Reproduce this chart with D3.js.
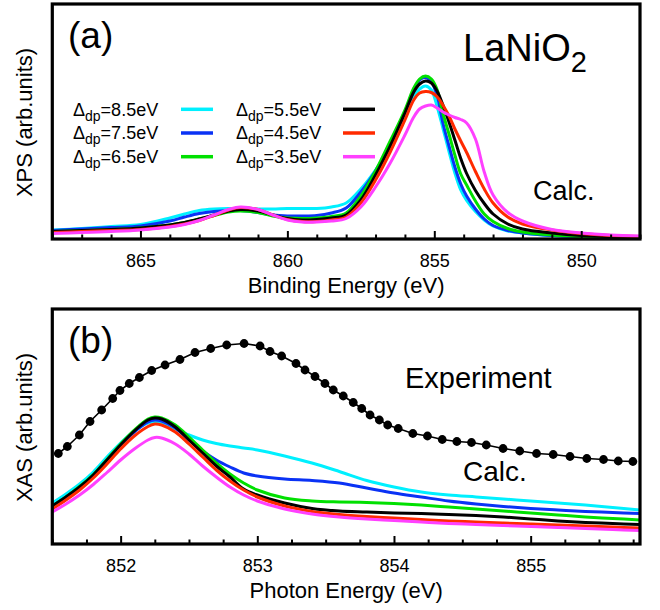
<!DOCTYPE html>
<html><head><meta charset="utf-8">
<script src="https://cdn.jsdelivr.net/npm/d3@7"></script>
<style>
body{margin:0;background:#fff;}
text{font-family:"Liberation Sans",Arial,Helvetica,sans-serif;fill:#000;}
</style>
</head><body>
<svg id="chart" width="660" height="610"></svg>
<script>
// ---------- data ----------
const seriesLabels = ["8.5", "7.5", "6.5", "5.5", "4.5", "3.5"];
const seriesColors = ["#00f0ff", "#0a32f5", "#00e000", "#000000", "#ff2a00", "#ff40ff"];

// (a) XPS, binding energy (eV)
const energyA = [868,867,866,865,864,863.5,863,862.5,862,861.6,861,860.5,860,859.5,859,858.5,858,857.5,857,856.5,856,855.7,855.5,855.3,855.1,854.9,854.7,854.5,854.3,854.1,853.9,853.6,853.3,853.0,852.5,852,851,850,849,848];
const xps85 = [0.18,0.21,0.25,0.29,0.42,0.50,0.57,0.60,0.61,0.61,0.60,0.60,0.61,0.61,0.61,0.64,0.72,1.00,1.38,1.84,2.42,2.84,3.00,3.06,2.98,2.64,2.20,1.75,1.32,0.98,0.77,0.55,0.38,0.26,0.16,0.12,0.07,0.05,0.04,0.04];
const xps75 = [0.17,0.20,0.23,0.26,0.36,0.44,0.51,0.55,0.57,0.57,0.53,0.48,0.46,0.46,0.47,0.52,0.62,0.94,1.36,1.88,2.52,2.96,3.18,3.23,3.14,2.86,2.30,1.86,1.44,1.10,0.86,0.60,0.40,0.27,0.17,0.12,0.07,0.05,0.04,0.04];
const xps65 = [0.15,0.17,0.19,0.22,0.28,0.33,0.40,0.47,0.54,0.56,0.53,0.46,0.42,0.41,0.42,0.45,0.52,0.86,1.36,1.96,2.58,3.02,3.20,3.26,3.20,2.98,2.50,2.10,1.68,1.30,1.08,0.76,0.50,0.35,0.21,0.14,0.08,0.05,0.04,0.04];
const xps55 = [0.15,0.17,0.19,0.22,0.28,0.33,0.40,0.48,0.56,0.59,0.56,0.48,0.41,0.38,0.39,0.42,0.48,0.78,1.28,1.86,2.52,2.94,3.10,3.16,3.12,2.95,2.67,2.34,1.98,1.61,1.31,0.97,0.71,0.50,0.30,0.20,0.12,0.07,0.05,0.04];
const xps45 = [0.13,0.15,0.17,0.19,0.25,0.30,0.37,0.47,0.58,0.63,0.59,0.48,0.39,0.35,0.35,0.38,0.44,0.72,1.18,1.74,2.38,2.78,2.92,2.95,2.93,2.84,2.67,2.46,2.20,1.96,1.73,1.35,1.00,0.72,0.44,0.30,0.18,0.11,0.07,0.05];
const xps35 = [0.11,0.13,0.15,0.18,0.24,0.29,0.37,0.48,0.59,0.64,0.59,0.48,0.38,0.34,0.34,0.36,0.41,0.64,1.04,1.52,2.08,2.44,2.60,2.66,2.68,2.62,2.54,2.48,2.43,2.39,2.32,2.00,1.34,0.88,0.53,0.36,0.19,0.12,0.08,0.06];

// (b) XAS, photon energy (eV)
const energyB = [851.5,851.6,851.7,851.8,851.9,852.0,852.1,852.2,852.25,852.3,852.4,852.5,852.6,852.7,852.8,852.9,853.0,853.2,853.4,853.6,853.8,854.0,854.2,854.4,854.6,854.8,855.0,855.2,855.4,855.6,855.8];
const xas85 = [0.82,1.00,1.20,1.44,1.74,2.02,2.26,2.42,2.44,2.42,2.30,2.18,2.08,2.01,1.96,1.92,1.88,1.76,1.62,1.45,1.27,1.14,1.04,0.98,0.94,0.90,0.86,0.82,0.78,0.73,0.68];
const xas75 = [0.76,0.94,1.14,1.38,1.68,1.98,2.24,2.44,2.48,2.46,2.32,2.08,1.86,1.68,1.54,1.42,1.36,1.30,1.27,1.22,1.12,1.02,0.94,0.86,0.80,0.75,0.71,0.68,0.65,0.63,0.61];
const xas65 = [0.76,0.94,1.15,1.39,1.69,2.00,2.28,2.50,2.54,2.52,2.38,2.14,1.88,1.62,1.40,1.22,1.08,0.92,0.86,0.84,0.83,0.81,0.78,0.74,0.70,0.66,0.62,0.58,0.54,0.51,0.48];
const xas55 = [0.76,0.94,1.14,1.38,1.68,1.98,2.26,2.48,2.52,2.50,2.34,2.08,1.82,1.56,1.34,1.10,0.98,0.82,0.71,0.66,0.64,0.62,0.61,0.59,0.57,0.54,0.50,0.46,0.43,0.41,0.39];
const xas45 = [0.70,0.88,1.08,1.32,1.60,1.90,2.16,2.35,2.40,2.38,2.24,2.00,1.74,1.48,1.26,1.08,0.94,0.76,0.65,0.59,0.55,0.52,0.49,0.46,0.44,0.42,0.40,0.38,0.36,0.34,0.32];
const xas35 = [0.64,0.80,0.98,1.19,1.43,1.68,1.90,2.08,2.13,2.12,2.00,1.80,1.56,1.34,1.14,0.98,0.86,0.70,0.60,0.54,0.50,0.47,0.44,0.41,0.39,0.37,0.35,0.33,0.31,0.29,0.27];

// (b) experiment
const expEnergy = [851.544,851.610,851.698,851.776,851.861,851.942,851.995,852.063,852.137,852.227,852.325,852.434,852.544,852.659,852.776,852.903,853.020,853.093,853.178,853.283,853.349,853.422,853.495,853.556,853.629,853.702,853.764,853.825,853.893,853.954,854.031,854.138,854.245,854.353,854.460,854.567,854.675,854.798,854.920,855.043,855.165,855.288,855.411,855.533,855.641,855.748];
const expIntensity = [1.81,1.95,2.18,2.45,2.68,2.91,3.07,3.21,3.33,3.47,3.58,3.69,3.83,3.91,3.98,4.01,3.96,3.85,3.76,3.61,3.48,3.35,3.21,3.08,2.96,2.83,2.71,2.58,2.48,2.38,2.31,2.21,2.16,2.09,2.05,2.03,1.98,1.91,1.86,1.81,1.79,1.75,1.71,1.69,1.66,1.65];

const majorTicksA = [865, 860, 855, 850];
const majorTicksB = [852, 853, 854, 855];

// ---------- drawing ----------
const svg = d3.select("#chart");
const L = 52.3, R = 640;
const FONT = "'Liberation Sans',Arial,Helvetica,sans-serif";

function panel(cfg) {
  const x = d3.scaleLinear().domain(cfg.xDomain).range([L, R]);
  const y = d3.scaleLinear().domain([0, 4.7]).range([cfg.bottom, cfg.top]);
  const g = svg.append("g");
  const clipId = "clip" + cfg.id;
  svg.append("clipPath").attr("id", clipId).append("rect")
    .attr("x", L).attr("y", cfg.top).attr("width", R - L).attr("height", cfg.bottom - cfg.top);
  const plot = g.append("g").attr("clip-path", `url(#${clipId})`);
  const line = d3.line().x(d => x(d[0])).y(d => y(d[1])).curve(d3.curveCatmullRom.alpha(0.5));
  cfg.series.forEach((s, i) => {
    plot.append("path").datum(cfg.energy.map((e, k) => [e, s[k]]))
      .attr("d", line).attr("fill", "none").attr("stroke", seriesColors[i])
      .attr("stroke-width", 3).attr("stroke-linejoin", "round");
  });
  // minor ticks
  const minor = g.append("g").attr("transform", `translate(0,${cfg.bottom})`)
    .call(d3.axisBottom(x).tickValues(cfg.minor).tickSize(-4.5).tickFormat(""));
  minor.select(".domain").remove();
  minor.selectAll("line").attr("stroke-width", 2);
  const major = g.append("g").attr("transform", `translate(0,${cfg.bottom})`)
    .call(d3.axisBottom(x).tickValues(cfg.major).tickSize(-8).tickPadding(15).tickFormat(d3.format("d")));
  major.select(".domain").remove();
  major.selectAll("line").attr("stroke-width", 2);
  major.selectAll("text").attr("font-size", 18).attr("font-family", FONT).attr("fill", "#000");
  // frame
  g.append("rect").attr("x", L).attr("y", cfg.top).attr("width", R - L).attr("height", cfg.bottom - cfg.top)
    .attr("fill", "none").attr("stroke", "#000").attr("stroke-width", 3.2);
  // axis titles
  g.append("text").attr("x", (L + R) / 2).attr("y", cfg.bottom + 53.5).attr("text-anchor", "middle")
    .attr("font-size", 22).text(cfg.xLabel);
  g.append("text").attr("transform", `translate(31.5,${(cfg.top + cfg.bottom) / 2 + 1}) rotate(-90)`)
    .attr("text-anchor", "middle").attr("font-size", 22).text(cfg.yLabel);
  g.append("text").attr("x", 68).attr("y", cfg.top + 43.5).attr("font-size", 37).text(cfg.tag);
  return { x, y, g, plot };
}

const minorA = d3.range(848, 869, 1).filter(v => v % 5 !== 0);
const minorB = d3.range(851.5, 855.8, 0.25).filter(v => Math.abs(v - Math.round(v)) > 1e-6);

const pa = panel({
  id: "a", top: 4, bottom: 239, xDomain: [868, 848], energy: energyA,
  series: [xps85, xps75, xps65, xps55, xps45, xps35],
  major: majorTicksA, minor: minorA,
  xLabel: "Binding Energy (eV)", yLabel: "XPS (arb.units)", tag: "(a)"
});
const pb = panel({
  id: "b", top: 309, bottom: 544, xDomain: [851.5, 855.8], energy: energyB,
  series: [xas85, xas75, xas65, xas55, xas45, xas35],
  major: majorTicksB, minor: minorB,
  xLabel: "Photon Energy (eV)", yLabel: "XAS (arb.units)", tag: "(b)"
});

// experiment
const expPts = expEnergy.map((e, i) => [e, expIntensity[i]]);
pb.plot.append("path").datum(expPts)
  .attr("d", d3.line().x(d => pb.x(d[0])).y(d => pb.y(d[1])))
  .attr("fill", "none").attr("stroke", "#000").attr("stroke-width", 1.6);
pb.plot.selectAll("circle.exp").data(expPts).enter().append("circle")
  .attr("cx", d => pb.x(d[0])).attr("cy", d => pb.y(d[1])).attr("r", 4.4).attr("fill", "#000");

// annotations panel a
const t1 = pa.g.append("text").attr("x", 463).attr("y", 61).attr("font-size", 38);
t1.append("tspan").text("LaNiO");
t1.append("tspan").attr("font-size", 29).attr("dy", 11).text("2");
pa.g.append("text").attr("x", 533).attr("y", 199.5).attr("font-size", 27).text("Calc.");

// legend
const legRowY = [109.3, 133, 156.7];
seriesLabels.forEach((lab, i) => {
  const col = Math.floor(i / 3), row = i % 3;
  const tx = col === 0 ? 73 : 236;
  const lx = col === 0 ? 181 : 343;
  const ty = legRowY[row] + 6.4;
  const t = pa.g.append("text").attr("x", tx).attr("y", ty).attr("font-size", 18);
  t.append("tspan").text("\u0394");
  t.append("tspan").attr("font-size", 14).attr("dy", 5).text("dp");
  t.append("tspan").attr("dy", -5).text("=" + lab + "eV");
  pa.g.append("line").attr("x1", lx).attr("x2", lx + 32).attr("y1", legRowY[row]).attr("y2", legRowY[row])
    .attr("stroke", seriesColors[i]).attr("stroke-width", 3.5);
});

// annotations panel b
pb.g.append("text").attr("x", 405).attr("y", 388).attr("font-size", 29).text("Experiment");
pb.g.append("text").attr("x", 463).attr("y", 481).attr("font-size", 28).text("Calc.");
</script>
</body></html>
